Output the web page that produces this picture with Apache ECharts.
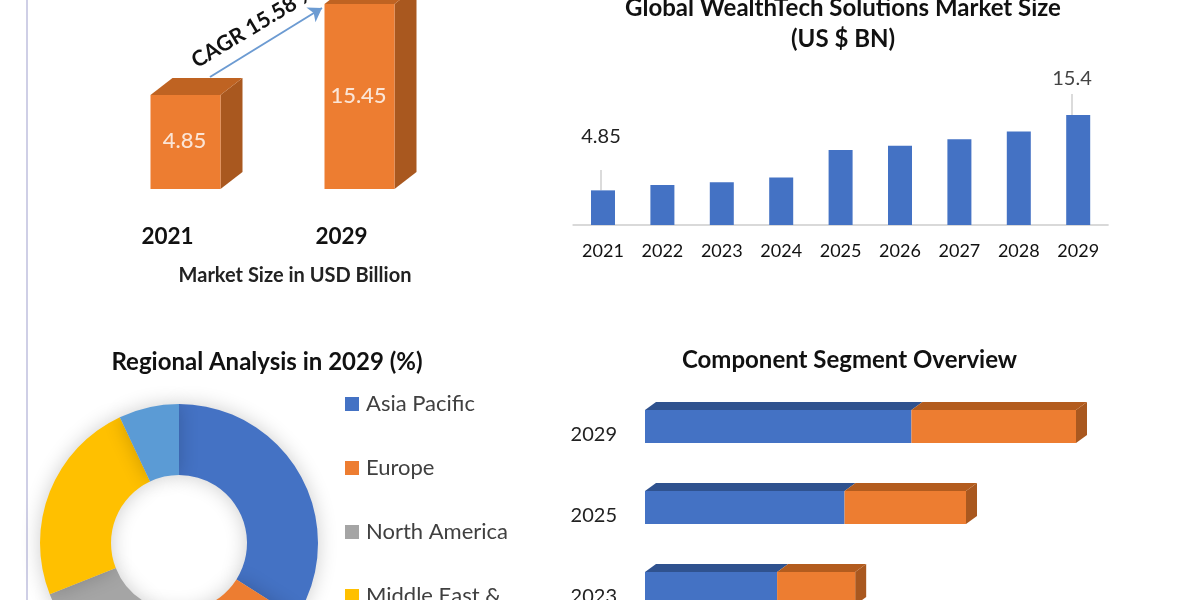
<!DOCTYPE html>
<html><head><meta charset="utf-8">
<style>html,body{margin:0;padding:0;background:#fff}#c{width:1200px;height:600px}</style>
<script src="https://cdn.jsdelivr.net/npm/echarts@6/dist/echarts.min.js"></script>
</head><body><div id="c"></div>
<script>
const FONT = 'Lato';
// Market size 3D columns
const cagrYears = ['2021', '2029'];
const cagrValues = [4.85, 15.45];
const cagrAxisMin = -6.1;
// Market size yearly columns
const sizeYears = ['2021','2022','2023','2024','2025','2026','2027','2028','2029'];
const sizeValues = [4.85, 5.6, 6.0, 6.65, 10.5, 11.1, 12.0, 13.1, 15.4];
// Regional donut
const regionNames = ['Asia Pacific','Europe','North America','Middle East &\nAfrica','South America'];
const regionValues = [34, 23, 12, 24, 7];
const regionColors = ['#4472C4','#ED7D31','#A5A5A5','#FFC000','#5B9BD5'];
// Component stacked 3D bars
const compYears = ['2023','2025','2029'];
const compBlue = [4.72, 7.13, 9.52];
const compOrange = [2.79, 4.34, 5.88];

function column3D(params, api) {
  const i = params.dataIndex, v = api.value(1);
  const top = api.coord([i, v]), base = api.coord([i, cagrAxisMin]);
  const w = 70, dx = 22, dy = 17;
  const x0 = top[0]-w/2, x1 = top[0]+w/2, yt = top[1], yb = base[1];
  return {type:'group', children:[
    {type:'polygon', shape:{points:[[x1,yt],[x1+dx,yt-dy],[x1+dx,yb-dy],[x1,yb]]}, style:{fill:'#A9581F'}},
    {type:'polygon', shape:{points:[[x0,yt],[x1,yt],[x1+dx,yt-dy],[x0+dx,yt-dy]]}, style:{fill:'#BF6322'}},
    {type:'rect', shape:{x:x0,y:yt,width:w,height:yb-yt}, style:{fill:'#ED7D31'}},
    {type:'text', style:{x:(x0+x1)/2-1,y:(yt+yb)/2-1,text:String(v),align:'center',verticalAlign:'middle',
      fill:'#FBE5D6',font:'500 22px '+FONT}}
  ]};
}
function stackBar(baseArr, front, topc, side) {
  return function(params, api) {
    const i = params.dataIndex;
    const start = baseArr ? baseArr[i] : 0;
    const val = api.value(0);
    const a = api.coord([start, i]), b = api.coord([start+val, i]);
    const h = 33, dx = 11, dy = 8;
    const x0 = a[0], x1 = b[0], y0 = a[1]-h/2, y1 = a[1]+h/2;
    const kids = [
      {type:'polygon', shape:{points:[[x0,y0],[x1,y0],[x1+dx,y0-dy],[x0+dx,y0-dy]]}, style:{fill:topc}},
      {type:'rect', shape:{x:x0,y:y0,width:x1-x0,height:y1-y0}, style:{fill:front}}
    ];
    if (side) kids.unshift({type:'polygon', shape:{points:[[x1,y0],[x1+dx,y0-dy],[x1+dx,y1-dy],[x1,y1]]}, style:{fill:side}});
    return {type:'group', children:kids};
  };
}
const titleStyle = {fontFamily:FONT, fontWeight:'bold', color:'#111', fontSize:24, lineHeight:31};
const chart = echarts.init(document.getElementById('c'), null, {renderer:'canvas'});
chart.setOption({
  backgroundColor:'#fff',
  animation:false,
  textStyle:{fontFamily:FONT},
  title:[
    {text:'Global WealthTech Solutions Market Size\n(US $ BN)', left:838, top:-12, textAlign:'center', textStyle:titleStyle},
    {text:'Regional Analysis in 2029 (%)', left:262, top:342, textAlign:'center', textStyle:titleStyle},
    {text:'Component Segment Overview', left:844.5, top:340, textAlign:'center', textStyle:titleStyle},
    {text:'Market Size in USD Billion', left:290, top:255, textAlign:'center', textStyle:{...titleStyle,fontSize:20,color:'#222'}}
  ],
  legend:{
    orient:'vertical', left:345, top:391, height:500, padding:0, itemWidth:14, itemHeight:14, itemGap:38,
    icon:'rect', data:regionNames, selectedMode:false,
    formatter:function(n){ return n.split('\n')[0]; },
    textStyle:{fontFamily:FONT, fontSize:22, lineHeight:26, color:'#404040', padding:[0,0,0,2]}
  },
  grid:[
    {left:98.5, top:4, width:348, height:185, outerBoundsMode:'none'},
    {left:573.3, top:115, width:534.6, height:110, outerBoundsMode:'none'},
    {left:645, top:386, width:431, height:243, outerBoundsMode:'none'}
  ],
  xAxis:[
    {gridIndex:0, type:'category', data:cagrYears, axisLine:{show:false}, axisTick:{show:false},
     axisLabel:{margin:36, padding:[0,36,0,0], fontFamily:FONT, fontWeight:'bold', fontSize:22.5, color:'#111'}},
    {gridIndex:1, type:'category', data:sizeYears, axisLine:{lineStyle:{color:'#D9D9D9',width:2}}, axisTick:{show:false},
     axisLabel:{margin:17, fontFamily:FONT, fontSize:18, color:'#111'}},
    {gridIndex:2, type:'value', min:0, max:15.4, show:false}
  ],
  yAxis:[
    {gridIndex:0, type:'value', min:cagrAxisMin, max:15.45, show:false},
    {gridIndex:1, type:'value', min:0, max:15.4, show:false},
    {gridIndex:2, type:'category', data:compYears, axisLine:{show:false}, axisTick:{show:false},
     axisLabel:{margin:28, verticalAlign:'top', lineHeight:17, fontFamily:FONT, fontSize:20, color:'#222'}}
  ],
  series:[
    {type:'custom', xAxisIndex:0, yAxisIndex:0, clip:false, renderItem:column3D,
     data:cagrValues.map((v,i)=>[i,v]), encode:{x:0,y:1}, silent:true,
     markLine:{silent:true, animation:false, symbol:['none','arrow'], symbolSize:13, label:{show:false},
       lineStyle:{color:'#6C9BD2',width:2,type:'solid'},
       data:[[{x:210,y:77},{x:322,y:8}]]}},
    {type:'bar', xAxisIndex:1, yAxisIndex:1, barWidth:24, silent:true,
     itemStyle:{color:'#4472C4'},
     data:sizeValues.map((v,i)=>{
       if(i===0) return {value:v,label:{show:true,position:'top',formatter:'{c}\n\u00a0',fontSize:20,lineHeight:22,color:'#222',fontFamily:FONT},
          labelLine:{show:true}};
       if(i===sizeValues.length-1) return {value:v,label:{show:true,position:'top',formatter:'{c}',fontSize:20,lineHeight:30,color:'#444',fontFamily:FONT},labelLine:{show:true}};
       return v;
     }),
     labelLine:{show:true,lineStyle:{color:'#CFCFCF',width:1.5}},
     labelLayout:function(p){ return p.dataIndex===0?{x:601,y:148,align:'center',verticalAlign:'middle'}
        :(p.dataIndex===8?{x:1072,y:79,align:'center',verticalAlign:'middle'}:{}); }},
    {type:'pie', center:[179,543], radius:[68,139], startAngle:90, clockwise:true, silent:true,
     label:{show:false}, labelLine:{show:false},
     data:regionNames.map((n,i)=>({name:n,value:regionValues[i],itemStyle:{color:regionColors[i],shadowBlur:20,shadowColor:'rgba(0,0,0,0.2)'}}))},
    {type:'custom', xAxisIndex:2, yAxisIndex:2, clip:false, silent:true, renderItem:stackBar(null,'#4472C4','#2F528F',null),
     data:compBlue.map((v,i)=>[v,i]), encode:{x:0,y:1}},
    {type:'custom', xAxisIndex:2, yAxisIndex:2, clip:false, silent:true, renderItem:stackBar(compBlue,'#ED7D31','#B35C1E','#A9581F'),
     data:compOrange.map((v,i)=>[v,i]), encode:{x:0,y:1}}
  ],
  graphic:[
    {type:'line', shape:{x1:27,y1:0,x2:27,y2:600}, silent:true, style:{stroke:'#CFCFE6',lineWidth:2}},
    {type:'text', x:199, y:72, rotation:31*Math.PI/180, silent:true,
     style:{text:'CAGR 15.58 %', fill:'#111', font:'bold 21.5px '+FONT, verticalAlign:'bottom', align:'left'}}
  ]
});
</script></body></html>
